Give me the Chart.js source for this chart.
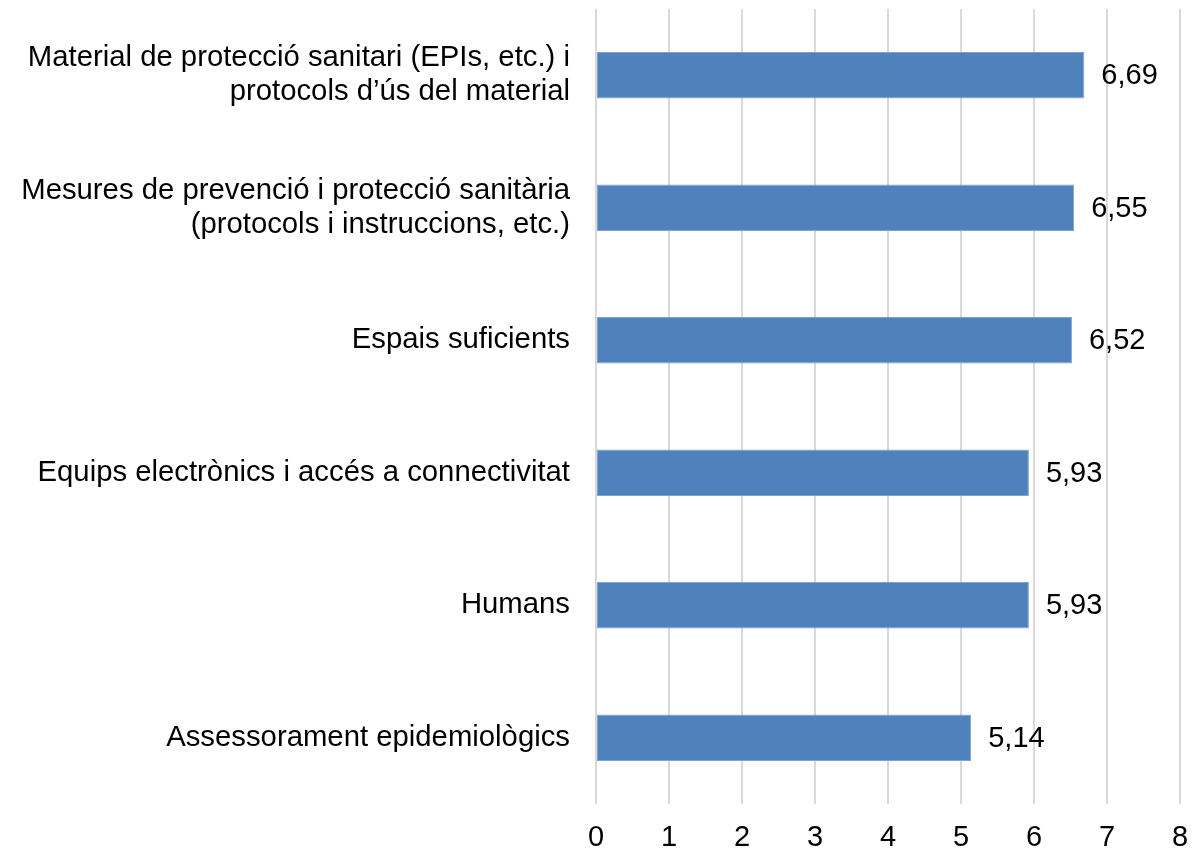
<!DOCTYPE html>
<html>
<head>
<meta charset="utf-8">
<script src="https://cdn.jsdelivr.net/npm/chart.js@4"></script>
<style>
  html, body { margin: 0; padding: 0; background: #fff; }
  #wrap { width: 1201px; height: 851px; }
</style>
</head>
<body>
<div id="wrap"><canvas id="chart" width="1201" height="851"></canvas></div>
<script>
// categories, top to bottom
const categories = [
  ['Material de protecció sanitari (EPIs, etc.) i', 'protocols d\u2019ús del material'],
  ['Mesures de prevenció i protecció sanitària', '(protocols i instruccions, etc.)'],
  'Espais suficients',
  'Equips electrònics i accés a connectivitat',
  'Humans',
  'Assessorament epidemiològics',
];
const values = [6.69, 6.55, 6.52, 5.93, 5.93, 5.14];
const xTicks = [0, 1, 2, 3, 4, 5, 6, 7, 8];

const FONT = 'Liberation Sans, Arial, Helvetica, sans-serif';

// value labels just past the end of each bar, decimal comma
const valueLabels = {
  id: 'valueLabels',
  afterDatasetsDraw(chart) {
    const { ctx } = chart;
    const meta = chart.getDatasetMeta(0);
    ctx.save();
    ctx.font = '29px ' + FONT;
    ctx.fillStyle = '#000';
    ctx.textAlign = 'left';
    ctx.textBaseline = 'middle';
    meta.data.forEach((bar, i) => {
      const txt = values[i].toFixed(2).replace('.', ',');
      ctx.fillText(txt, bar.x + 17, bar.y + 1);
    });
    ctx.restore();
  },
};

new Chart(document.getElementById('chart'), {
  type: 'bar',
  data: {
    labels: categories,
    datasets: [{
      data: values,
      backgroundColor: '#4F81BD',
      borderColor: '#7EA3D1',
      borderWidth: 1,
      borderSkipped: false,
      categoryPercentage: 1,
      barPercentage: 0.35,
    }],
  },
  options: {
    indexAxis: 'y',
    responsive: false,
    animation: false,
    layout: { padding: { top: 9, right: 21, bottom: 0, left: 0 } },
    plugins: { legend: { display: false }, tooltip: { enabled: false } },
    scales: {
      x: {
        min: 0,
        max: 8,
        afterBuildTicks(scale) { scale.ticks = xTicks.map(v => ({ value: v })); },
        afterFit(scale) {
          scale.height = 47;
          scale.paddingLeft = 0;
          scale.paddingRight = 0;
        },
        grid: { color: '#D9D9D9', lineWidth: 2, drawTicks: false },
        border: { display: false },
        ticks: {
          padding: 17,
          color: '#000',
          maxRotation: 0,
          font: { family: FONT, size: 29, lineHeight: 1.2 },
        },
      },
      y: {
        grid: { display: false, drawTicks: false },
        border: { display: false },
        afterFit(scale) {
          scale.width = 596;
          scale.paddingTop = 0;
          scale.paddingBottom = 0;
        },
        ticks: {
          padding: 26,
          color: '#000',
          crossAlign: 'near',
          font: { family: FONT, size: 29.3, lineHeight: 1.16 },
        },
      },
    },
  },
  plugins: [valueLabels],
});
</script>
</body>
</html>
